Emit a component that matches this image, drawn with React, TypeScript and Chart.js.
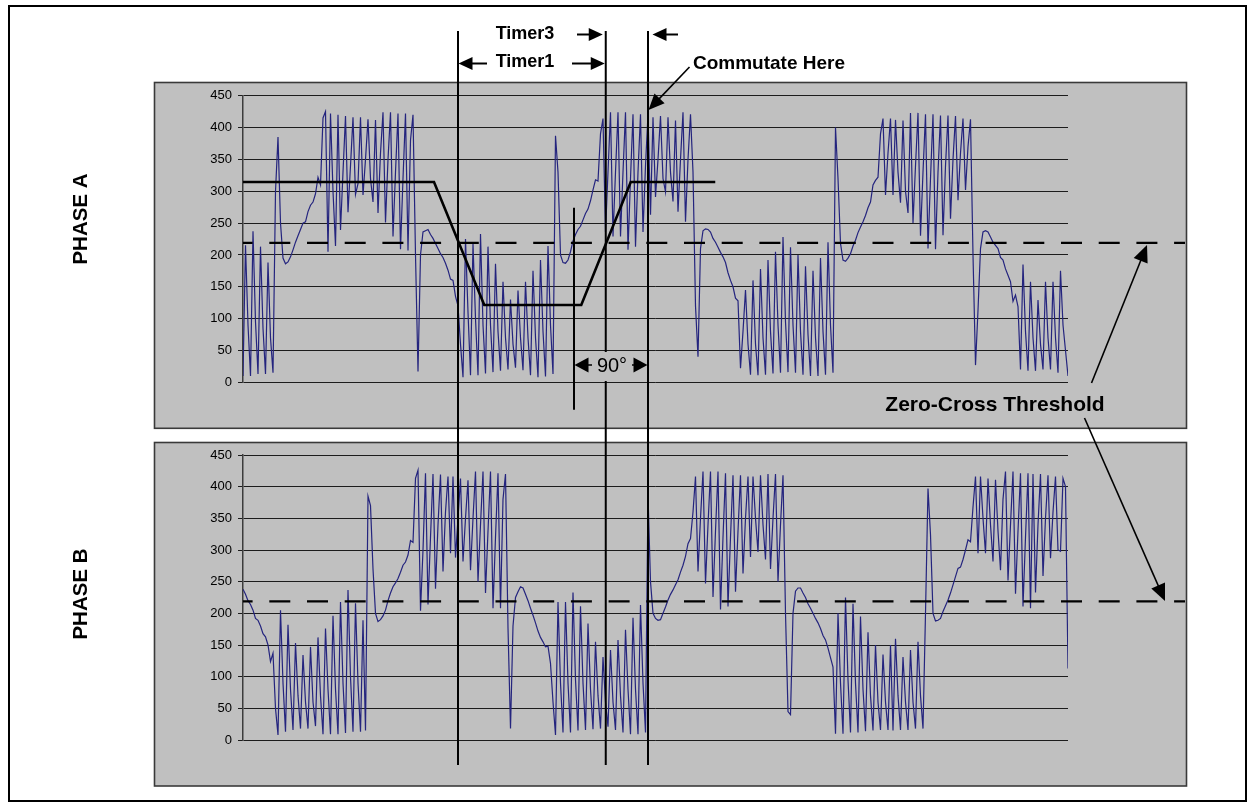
import React, { useEffect, useRef } from 'react';
import { Chart, registerables } from 'chart.js';

Chart.register(...registerables);

const FONT = "'Liberation Sans', Arial, Helvetica, sans-serif";

// ---- data (sample index on x, ADC counts on y) ----
const yMin = 0;
const yMax = 450;
const yStep = 50;

const phaseA = [
  10, 215, 90, 10, 237, 95, 13, 213, 85, 13,
  188, 70, 15, 300, 385, 250, 195, 186, 189, 197,
  208, 220, 230, 240, 250, 252, 268, 278, 283, 296,
  322, 310, 415, 425, 205, 422, 300, 214, 420, 239,
  330, 418, 267, 340, 416, 295, 312, 416, 294, 350,
  413, 320, 283, 412, 266, 360, 424, 251, 350, 424,
  229, 330, 422, 209, 320, 422, 207, 380, 420, 200,
  17, 200, 236, 238, 240, 232, 226, 218, 210, 202,
  196, 187, 176, 162, 160, 135, 120, 60, 8, 225,
  110, 11, 218, 100, 11, 233, 90, 14, 213, 90,
  16, 186, 80, 18, 158, 70, 20, 130, 60, 23,
  144, 70, 19, 158, 70, 11, 175, 70, 8, 192,
  80, 9, 214, 90, 13, 387, 330, 200, 188, 187,
  192, 205, 222, 232, 240, 245, 255, 265, 272, 285,
  302, 318, 316, 390, 414, 236, 330, 424, 229, 330,
  424, 229, 330, 424, 208, 320, 421, 213, 330, 421,
  236, 340, 421, 263, 416, 291, 350, 418, 320, 299,
  416, 330, 284, 411, 268, 350, 424, 252, 350, 421,
  330, 120, 40, 210, 238, 241, 240, 236, 226, 220,
  212, 204, 197, 188, 172, 160, 150, 132, 128, 22,
  80, 145, 60, 12, 160, 60, 11, 178, 70, 12,
  192, 80, 14, 205, 90, 15, 228, 95, 16, 212,
  90, 15, 200, 80, 12, 182, 75, 10, 175, 70,
  10, 195, 80, 12, 220, 90, 15, 400, 320, 218,
  192, 190, 195, 202, 214, 223, 235, 244, 252, 262,
  274, 283, 310, 317, 322, 390, 414, 294, 360, 414,
  294, 412, 330, 282, 411, 300, 266, 423, 250, 340,
  423, 230, 330, 421, 210, 320, 421, 209, 330, 419,
  231, 340, 419, 257, 350, 418, 286, 360, 414, 302,
  370, 413, 200, 27, 113, 210, 236, 238, 236, 228,
  220, 215, 210, 196, 192, 178, 168, 158, 127, 137,
  119, 20, 185, 80, 18, 158, 70, 18, 129, 60,
  20, 158, 70, 20, 158, 70, 15, 175, 90, 50,
  10,
];

const phaseB = [
  238, 230, 220, 214, 205, 192, 189, 180, 168, 163,
  150, 124, 137, 50, 8, 205, 90, 13, 182, 80,
  16, 153, 70, 18, 134, 60, 18, 147, 60, 22,
  162, 70, 9, 176, 80, 9, 196, 80, 9, 218,
  90, 11, 237, 100, 13, 216, 90, 13, 189, 15,
  385, 370, 270, 200, 187, 190, 196, 205, 220, 232,
  242, 248, 255, 265, 276, 281, 292, 315, 312, 413,
  426, 204, 300, 421, 214, 320, 420, 239, 340, 419,
  266, 360, 416, 295, 416, 288, 350, 413, 282, 350,
  410, 268, 350, 424, 250, 340, 424, 232, 330, 424,
  208, 320, 421, 208, 380, 420, 177, 18, 180, 225,
  234, 242, 240, 230, 220, 208, 197, 185, 172, 162,
  155, 147, 148, 121, 60, 8, 218, 90, 12, 218,
  90, 12, 233, 95, 15, 211, 90, 16, 184, 80,
  17, 155, 70, 18, 131, 60, 21, 142, 60, 16,
  158, 70, 12, 174, 80, 9, 193, 80, 9, 213,
  90, 12, 387, 250, 200, 192, 189, 190, 200, 210,
  221, 230, 237, 245, 253, 265, 276, 290, 310, 318,
  360, 416, 266, 350, 424, 247, 340, 424, 226, 330,
  424, 206, 320, 421, 211, 320, 418, 234, 330, 418,
  263, 350, 416, 289, 416, 350, 297, 418, 340, 285,
  420, 270, 350, 420, 250, 340, 418, 200, 45, 40,
  200, 235, 240, 240, 232, 225, 215, 208, 200, 192,
  185, 176, 165, 158, 145, 130, 115, 10, 200, 90,
  10, 225, 95, 12, 215, 90, 12, 195, 80, 14,
  170, 70, 15, 150, 60, 16, 135, 60, 16, 150,
  15, 160, 70, 16, 131, 60, 16, 142, 60, 18,
  155, 70, 18, 200, 397, 324, 200, 188, 189, 192,
  203, 212, 221, 232, 245, 258, 271, 273, 285, 300,
  316, 313, 368, 416, 295, 416, 350, 295, 413, 340,
  282, 411, 330, 268, 380, 424, 252, 340, 424, 231,
  330, 421, 211, 320, 421, 208, 420, 233, 340, 420,
  259, 350, 418, 287, 360, 416, 300, 298, 413, 400,
  113,
];

const zeroCrossThreshold = 219;
const thresholdSpan = [0, 376.8]; // runs on past the last sample to the panel edge

// idealised drive (trapezoid) drawn over phase A
const driveX = [0, 76.4, 96.5, 135.3, 155.1, 188.9];
const driveY = [314.5, 314.5, 121.4, 121.4, 314.5, 314.5];

// event markers (sample index)
const timerMarks = [86, 145.1, 162]; // Timer1 start, zero cross, commutation
const phase90Mark = 132.4;
const phase90Span = [274, -43];

const texts = {
  timer3: 'Timer3',
  timer1: 'Timer1',
  commutate: 'Commutate Here',
  zeroCross: 'Zero-Cross Threshold',
  deg: '90°',
  phaseA: 'PHASE A',
  phaseB: 'PHASE B',
};

// ---- layout ----
const PAGE_W = 1250;
const PAGE_H = 804;
const AXIS_W = 44;
const PLOT_LEFT = 243;
const PLOT_RIGHT = 1068;
const A_TOP = 95.7;
const A_BOTTOM = 382.3;
const B_TOP = 455;
const B_BOTTOM = 740;
const PANEL_A = { l: 154.5, t: 82.5, r: 1186.5, b: 428.3 };
const PANEL_B = { l: 154.5, t: 442.5, r: 1186.5, b: 786 };
const PANEL_FILL = '#c0c0c0';
const WAVE_COLOR = '#24247e';

function drawPanel(ctx: CanvasRenderingContext2D, p: { l: number; t: number; r: number; b: number }) {
  ctx.save();
  ctx.fillStyle = PANEL_FILL;
  ctx.fillRect(p.l, p.t, p.r - p.l, p.b - p.t);
  ctx.strokeStyle = '#3a3a3a';
  ctx.lineWidth = 1.6;
  ctx.strokeRect(p.l, p.t, p.r - p.l, p.b - p.t);
  ctx.restore();
}

function arrow(
  ctx: CanvasRenderingContext2D,
  x1: number, y1: number, x2: number, y2: number,
  len: number, half: number, lw: number
) {
  const a = Math.atan2(y2 - y1, x2 - x1);
  const c = Math.cos(a);
  const s = Math.sin(a);
  ctx.lineWidth = lw;
  ctx.beginPath();
  ctx.moveTo(x1, y1);
  ctx.lineTo(x2 - c * len * 0.7, y2 - s * len * 0.7);
  ctx.stroke();
  ctx.beginPath();
  ctx.moveTo(x2, y2);
  ctx.lineTo(x2 - len * c + half * s, y2 - len * s - half * c);
  ctx.lineTo(x2 - len * c - half * s, y2 - len * s + half * c);
  ctx.closePath();
  ctx.fill();
}

function toXY(vals: number[]) {
  return vals.map((y, x) => ({ x, y }));
}

function baseOptions(top: number, bottom: number) {
  return {
    responsive: false,
    animation: false as const,
    events: [] as any[],
    layout: {
      padding: {
        left: PLOT_LEFT - AXIS_W,
        right: PAGE_W - PLOT_RIGHT,
        top: top,
        bottom: PAGE_H - bottom,
      },
    },
    plugins: { legend: { display: false }, tooltip: { enabled: false } },
    scales: {
      x: { type: 'linear' as const, min: 0, max: phaseA.length - 1, display: false },
      y: {
        min: yMin,
        max: yMax,
        afterFit: (s: any) => {
          s.width = AXIS_W;
        },
        ticks: {
          stepSize: yStep,
          color: '#000',
          padding: 6,
          font: { family: FONT, size: 13 },
        },
        grid: { color: '#1c1c1c', lineWidth: 1, tickLength: 5, drawTicks: true },
        border: { display: true, color: '#3c3c3c', width: 1.5 },
      },
    },
  };
}

const thresholdDataset = (order: number) => ({
  data: thresholdSpan.map((x) => ({ x, y: zeroCrossThreshold })),
  borderColor: '#000',
  borderWidth: 2.2,
  borderDash: [21, 16.7],
  borderDashOffset: 11.4,
  pointRadius: 0,
  clip: false as const,
  order,
});

export default function App() {
  const refA = useRef<HTMLCanvasElement>(null);
  const refB = useRef<HTMLCanvasElement>(null);

  useEffect(() => {
    const panelBPlugin = {
      id: 'panelB',
      beforeDraw(chart: any) {
        drawPanel(chart.ctx, PANEL_B);
      },
    };

    const overlayPlugin = {
      id: 'overlayA',
      beforeDraw(chart: any) {
        const ctx = chart.ctx as CanvasRenderingContext2D;
        // outer frame
        ctx.save();
        ctx.strokeStyle = '#000';
        ctx.lineWidth = 2;
        ctx.strokeRect(9, 6, 1237, 795);
        ctx.restore();
        drawPanel(ctx, PANEL_A);
      },
      afterDraw(chart: any) {
        const ctx = chart.ctx as CanvasRenderingContext2D;
        const xs = chart.scales.x;
        const ys = chart.scales.y;
        const mx = timerMarks.map((v) => xs.getPixelForValue(v));
        ctx.save();
        ctx.strokeStyle = '#000';
        ctx.fillStyle = '#000';
        ctx.lineCap = 'butt';

        // long marker lines across both panels
        ctx.lineWidth = 2;
        mx.forEach((x) => {
          ctx.beginPath();
          ctx.moveTo(x, 31);
          ctx.lineTo(x, 765);
          ctx.stroke();
        });
        // short 90 degree reference line
        const px90 = xs.getPixelForValue(phase90Mark);
        ctx.beginPath();
        ctx.moveTo(px90, ys.getPixelForValue(phase90Span[0]));
        ctx.lineTo(px90, ys.getPixelForValue(phase90Span[1]));
        ctx.stroke();

        // 90° label box
        ctx.fillStyle = PANEL_FILL;
        ctx.fillRect(px90 + 15, 352, 44, 29);
        ctx.fillStyle = '#000';
        ctx.font = `20px ${FONT}`;
        ctx.textAlign = 'center';
        ctx.textBaseline = 'middle';
        ctx.fillText(texts.deg, (px90 + mx[2]) / 2 + 1, 366);
        arrow(ctx, px90 + 18, 365, px90 + 0.5, 365, 14, 7.5, 1.5);
        arrow(ctx, mx[2] - 16, 365, mx[2] - 0.5, 365, 14, 7.5, 1.5);

        // timer annotations
        ctx.font = `bold 18px ${FONT}`;
        ctx.textAlign = 'center';
        const tcx = 525;
        ctx.fillText(texts.timer3, tcx, 34);
        ctx.fillText(texts.timer1, tcx, 62);
        arrow(ctx, 487, 63.5, mx[0] + 0.5, 63.5, 14, 6.5, 2);
        arrow(ctx, 572, 63.5, mx[1] - 1, 63.5, 14, 6.5, 2);
        arrow(ctx, 577, 34.5, mx[1] - 3, 34.5, 14, 6.5, 2);
        arrow(ctx, 678, 34.5, mx[2] + 4.5, 34.5, 14, 6.5, 2);

        // commutate here
        ctx.font = `bold 19px ${FONT}`;
        ctx.textAlign = 'left';
        ctx.fillText(texts.commutate, 693, 63.5);
        arrow(ctx, 689.5, 67, mx[2] + 0.5, 110, 16, 7, 1.6);

        // zero-cross threshold
        ctx.font = `bold 21px ${FONT}`;
        ctx.textAlign = 'center';
        ctx.fillText(texts.zeroCross, 995, 405);
        arrow(ctx, 1091.5, 383, 1147, 245, 17, 7.5, 1.6);
        arrow(ctx, 1084.5, 418, 1165, 601, 17, 7.5, 1.6);

        // phase labels
        ctx.font = `bold 20.5px ${FONT}`;
        ctx.textAlign = 'center';
        ctx.save();
        ctx.translate(81, 219);
        ctx.rotate(-Math.PI / 2);
        ctx.fillText(texts.phaseA, 0, 0);
        ctx.restore();
        ctx.save();
        ctx.translate(81, 594);
        ctx.rotate(-Math.PI / 2);
        ctx.fillText(texts.phaseB, 0, 0);
        ctx.restore();

        ctx.restore();
      },
    };

    const chartB = new Chart(refB.current as HTMLCanvasElement, {
      type: 'line',
      data: {
        datasets: [
          thresholdDataset(0) as any,
          {
            data: toXY(phaseB),
            borderColor: WAVE_COLOR,
            borderWidth: 1.2,
            pointRadius: 0,
            tension: 0,
            order: 1,
          },
        ],
      },
      options: baseOptions(B_TOP, B_BOTTOM) as any,
      plugins: [panelBPlugin],
    });

    const chartA = new Chart(refA.current as HTMLCanvasElement, {
      type: 'line',
      data: {
        datasets: [
          {
            data: driveX.map((x, i) => ({ x, y: driveY[i] })),
            borderColor: '#000',
            borderWidth: 2.6,
            pointRadius: 0,
            tension: 0,
            clip: false,
            order: 0,
          } as any,
          thresholdDataset(1) as any,
          {
            data: toXY(phaseA),
            borderColor: WAVE_COLOR,
            borderWidth: 1.2,
            pointRadius: 0,
            tension: 0,
            order: 2,
          },
        ],
      },
      options: baseOptions(A_TOP, A_BOTTOM) as any,
      plugins: [overlayPlugin],
    });

    return () => {
      chartA.destroy();
      chartB.destroy();
    };
  }, []);

  return (
    <div
      style={{
        position: 'fixed',
        left: 0,
        top: 0,
        width: PAGE_W,
        height: PAGE_H,
        background: '#fff',
        overflow: 'hidden',
      }}
    >
      <canvas
        ref={refB}
        width={PAGE_W}
        height={PAGE_H}
        style={{ position: 'absolute', left: 0, top: 0 }}
      />
      <canvas
        ref={refA}
        width={PAGE_W}
        height={PAGE_H}
        style={{ position: 'absolute', left: 0, top: 0 }}
      />
    </div>
  );
}
